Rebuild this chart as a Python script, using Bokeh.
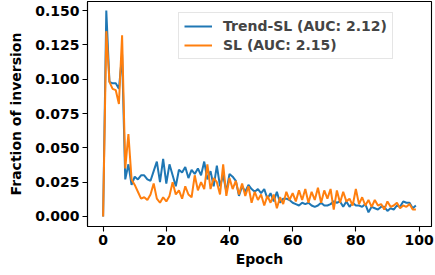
from bokeh.plotting import figure
from bokeh.models import FixedTicker, PrintfTickFormatter, Legend, LegendItem, Range1d
from bokeh.embed import file_html
from bokeh.resources import INLINE

epochs = list(range(100))

trend_sl = [
    0.000, 0.150, 0.098, 0.097, 0.097, 0.093, 0.118, 0.027, 0.038, 0.023,
    0.029, 0.027, 0.030, 0.030, 0.027, 0.026, 0.033, 0.040, 0.025, 0.042,
    0.024, 0.038, 0.030, 0.022, 0.034, 0.032, 0.036, 0.028, 0.034, 0.031,
    0.035, 0.030, 0.040, 0.027, 0.033, 0.022, 0.037, 0.022, 0.030, 0.018,
    0.031, 0.029, 0.026, 0.015, 0.022, 0.018, 0.023, 0.020, 0.018, 0.020,
    0.017, 0.020, 0.013, 0.017, 0.011, 0.018, 0.010, 0.013, 0.013, 0.012,
    0.010, 0.009, 0.008, 0.010, 0.009, 0.010, 0.008, 0.007, 0.008, 0.010,
    0.008, 0.008, 0.009, 0.011, 0.010, 0.011, 0.007, 0.011, 0.007, 0.010,
    0.008, 0.008, 0.007, 0.009, 0.003, 0.007, 0.006, 0.005, 0.007, 0.007,
    0.004, 0.006, 0.005, 0.008, 0.007, 0.011, 0.010, 0.010, 0.006, 0.008,
]

sl = [
    0.000, 0.135, 0.098, 0.093, 0.092, 0.082, 0.132, 0.035, 0.060, 0.027,
    0.023, 0.018, 0.013, 0.014, 0.012, 0.016, 0.024, 0.013, 0.010, 0.014,
    0.011, 0.015, 0.025, 0.016, 0.019, 0.013, 0.022, 0.016, 0.014, 0.030,
    0.019, 0.025, 0.020, 0.038, 0.020, 0.028, 0.025, 0.016, 0.038, 0.015,
    0.028, 0.020, 0.026, 0.016, 0.024, 0.015, 0.022, 0.010, 0.018, 0.012,
    0.016, 0.008, 0.015, 0.010, 0.016, 0.006, 0.014, 0.009, 0.018, 0.012,
    0.017, 0.011, 0.019, 0.012, 0.020, 0.010, 0.018, 0.012, 0.021, 0.010,
    0.019, 0.013, 0.020, 0.005, 0.019, 0.010, 0.018, 0.011, 0.013, 0.008,
    0.020, 0.009, 0.014, 0.008, 0.012, 0.007, 0.012, 0.008, 0.009, 0.005,
    0.011, 0.007, 0.008, 0.010, 0.006, 0.008, 0.007, 0.009, 0.005, 0.005,
]

labels = ["Trend-SL (AUC: 2.12)", "SL (AUC: 2.15)"]
x_ticks = [0, 20, 40, 60, 80, 100]
y_ticks = [0.0, 0.025, 0.05, 0.075, 0.1, 0.125, 0.15]

FONT = "DejaVu Sans"

p = figure(
    frame_width=344, frame_height=225,
    output_backend="svg", toolbar_location=None,
    x_range=Range1d(-4.95, 103.95), y_range=Range1d(-0.0073, 0.1566),
    min_border_left=87, min_border_right=3, min_border_top=1, min_border_bottom=48,
)
p.background_fill_color = "white"
p.border_fill_color = "white"
p.outline_line_color = "black"
p.outline_line_width = 1.1
p.xgrid.visible = False
p.ygrid.visible = False

r1 = p.line(epochs, trend_sl, line_color="#1f77b4", line_width=2)
r2 = p.line(epochs, sl, line_color="#ff7f0e", line_width=2)

for ax in (p.xaxis[0], p.yaxis[0]):
    ax.axis_line_color = "black"
    ax.axis_line_width = 1.1
    ax.major_tick_line_color = "black"
    ax.major_tick_line_width = 1.1
    ax.major_tick_out = 5
    ax.major_tick_in = 0
    ax.minor_tick_line_color = None
    ax.major_label_text_font = FONT
    ax.major_label_text_font_style = "bold"
    ax.major_label_text_font_size = "14px"
    ax.major_label_text_color = "black"
    ax.axis_label_text_font = FONT
    ax.axis_label_text_font_style = "bold"
    ax.axis_label_text_font_size = "14px"
    ax.axis_label_text_color = "black"
    ax.major_label_standoff = 3

p.xaxis[0].ticker = FixedTicker(ticks=x_ticks)
p.yaxis[0].ticker = FixedTicker(ticks=y_ticks)
p.yaxis[0].formatter = PrintfTickFormatter(format="%.3f")
p.xaxis[0].axis_label = "Epoch"
p.yaxis[0].axis_label = "Fraction of inversion"
p.xaxis[0].axis_label_standoff = 3
p.yaxis[0].axis_label_standoff = 8

legend = Legend(
    items=[LegendItem(label=labels[0], renderers=[r1]),
           LegendItem(label=labels[1], renderers=[r2])],
    location=(91, 167),
    label_text_font=FONT, label_text_font_style="bold", label_text_font_size="14px",
    glyph_width=28, glyph_height=14, label_standoff=11,
    padding=5, spacing=3, margin=0,
    border_line_color="#cccccc", border_line_width=1,
    background_fill_color="white", background_fill_alpha=0.8,
)
p.add_layout(legend)

open("out.html", "w").write(file_html(p, INLINE))
